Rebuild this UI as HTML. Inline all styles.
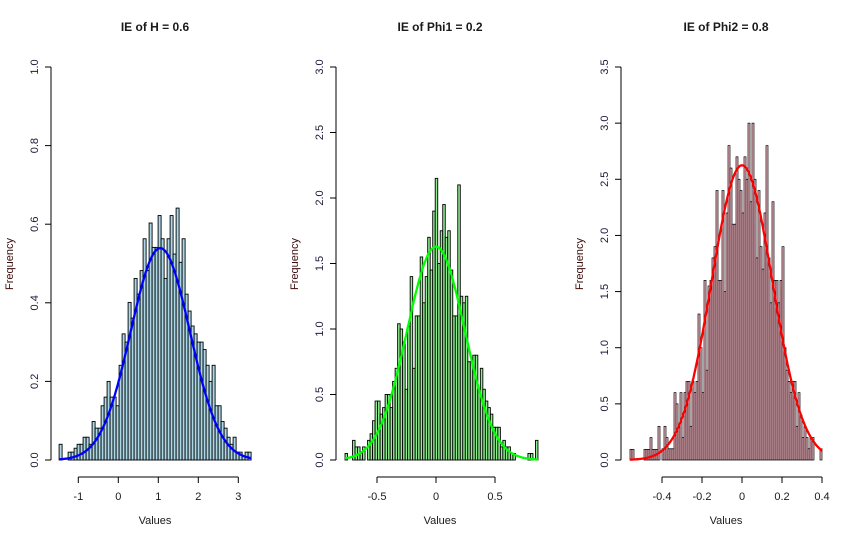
<!DOCTYPE html>
<html><head><meta charset="utf-8">
<style>
body{margin:0;background:#fff;}
svg{display:block;font-family:"Liberation Sans",Arial,sans-serif;}
</style></head>
<body>
<svg id="chart" width="857" height="541"></svg>
<script>
// Panel 1 data (IE of H)
const h1Values=[0.040,0,0,0.020,0.020,0.030,0.040,0.040,0.058,0.058,0.040,0.098,0.081,0.081,0.138,0.160,0.200,0.160,0.160,0.138,0.241,0.321,0.300,0.401,0.361,0.462,0.422,0.482,0.563,0.482,0.603,0.541,0.541,0.622,0.563,0.462,0.563,0.622,0.524,0.641,0.503,0.563,0.422,0.379,0.341,0.321,0.300,0.300,0.281,0.241,0.200,0.241,0.138,0.138,0.098,0.081,0.058,0.040,0.058,0.020,0.020,0.010,0.020,0.020];
const h1Range=[-1.48,3.32];
const h1Fit=[1.05,0.74];
const h1XTicks=[-1,0,1,2,3];
const h1YTicks=[0,0.2,0.4,0.6,0.8,1.0];
// Panel 2 data (IE of Phi1)
const h2Values=[0.05,0,0,0.15,0.1,0.1,0.05,0.1,0,0.15,0.2,0.3,0.45,0.45,0.35,0.4,0.5,0.5,0.4,0.6,0.7,1.04,1.0,0.9,0.54,1.02,1.40,0.70,1.10,1.10,1.55,1.20,1.40,1.70,1.45,1.90,2.15,1.50,1.75,1.95,1.70,1.75,1.45,1.10,1.10,2.10,1.25,1.20,1.25,0.75,0.75,0.80,0.80,0.54,0.70,0.54,0.45,0.40,0.35,0.25,0.25,0.25,0.10,0.15,0.10,0.10,0.05,0.05,0,0,0,0,0,0.05,0.05,0,0.15];
const h2Range=[-0.771,0.864];
const h2Fit=[0.0,0.245];
const h2XTicks=[-0.5,0,0.5];
const h2YTicks=[0,0.5,1.0,1.5,2.0,2.5,3.0];
// Panel 3 data (IE of Phi2)
const h3Values=[0.095,0.095,0,0,0,0,0,0.095,0.095,0.095,0.2,0.095,0.095,0.095,0.3,0,0.1,0.3,0.2,0.1,0.1,0.1,0.6,0.5,0.3,0.6,0.2,0.6,0.7,0.7,0.3,0.7,0.6,0.7,1.3,1.0,0.6,1.6,0.8,1.55,1.6,1.8,1.9,2.4,1.6,1.6,2.4,1.5,2.2,2.8,2.6,2.1,2.1,2.7,2.5,2.4,2.2,2.7,2.5,3.0,2.3,3.0,2.5,1.8,2.4,1.9,1.7,2.2,2.8,1.8,1.4,2.3,1.6,1.6,1.4,1.6,1.9,1.0,0.8,0.7,0.6,0.7,0.7,0.3,0.6,0.4,0.2,0.3,0.2,0.1,0.2,0.2,0,0,0,0.1];
const h3Range=[-0.56,0.40];
const h3Fit=[0.0,0.152];
const h3XTicks=[-0.4,-0.2,0,0.2,0.4];
const h3YTicks=[0,0.5,1.0,1.5,2.0,2.5,3.0,3.5];

const NS="http://www.w3.org/2000/svg";
const svg=document.getElementById('chart');
function mk(tag,attrs,parent){const e=document.createElementNS(NS,tag);for(const k in attrs)e.setAttribute(k,attrs[k]);(parent||svg).appendChild(e);return e;}
function fmt(v,dec){return v.toFixed(dec);}

function panel(cfg){
  const g=mk('g',{});
  
  
  const y0=460, yTopPx=67;
  const ymax=cfg.yTicks[cfg.yTicks.length-1];
  const ys=v=>y0-(v/ymax)*(y0-yTopPx);
  const xs=v=>cfg.px0+(v-cfg.v0)*cfg.ppu;
  const n=cfg.values.length, bw=(cfg.range[1]-cfg.range[0])/n;
  cfg.values.forEach((v,i)=>{
    const xa=xs(cfg.range[0]+i*bw), xb=xs(cfg.range[0]+(i+1)*bw);
    const r=mk('rect',{x:xa,y:ys(v),width:xb-xa,height:y0-ys(v),fill:cfg.fill,stroke:'#000','stroke-width':cfg.sw},g);
    
    
  });
  let d='';
  const [mu,sd]=cfg.fit;
  for(let k=0;k<=200;k++){
    const x=cfg.range[0]+(cfg.range[1]-cfg.range[0])*k/200;
    const y=Math.exp(-0.5*((x-mu)/sd)**2)/(sd*Math.sqrt(2*Math.PI));
    d+=(k?'L':'M')+xs(x).toFixed(1)+','+ys(y).toFixed(1);
  }
  const c=mk('path',{d:d,fill:'none',stroke:cfg.line,'stroke-width':2.3},g);
  
  
  const ax=cfg.yAxisX;
  const ya=mk('line',{x1:ax,x2:ax,y1:ys(0),y2:ys(ymax),stroke:'#000'},g);
  
  
  cfg.yTicks.forEach(t=>{
    mk('line',{x1:ax-6,x2:ax,y1:ys(t),y2:ys(t),stroke:'#000'},g);
    const tx=mk('text',{x:0,y:0,'font-size':11,fill:'#1a1a3a','text-anchor':'middle',transform:`translate(${ax-13},${ys(t)}) rotate(-90)`},g);
    tx.textContent=fmt(t,1);
    
    
  });
  const xa=mk('line',{x1:xs(cfg.xTicks[0]),x2:xs(cfg.xTicks[cfg.xTicks.length-1]),y1:477,y2:477,stroke:'#000'},g);
  
  
  cfg.xTicks.forEach(t=>{
    mk('line',{x1:xs(t),x2:xs(t),y1:477,y2:483,stroke:'#000'},g);
    const tx=mk('text',{x:xs(t),y:500,'font-size':11,fill:'#1a1a1a','text-anchor':'middle'},g);
    tx.textContent=(t===0?'0':(cfg.xdec?fmt(t,cfg.xdec):String(t)));
    
    
  });
  const title=mk('text',{x:cfg.cx,y:31,'font-size':12,'font-weight':'bold',fill:'#1a1a1a','text-anchor':'middle'},g);
  title.textContent=cfg.title;
  
  
  const xl=mk('text',{x:cfg.cx,y:524,'font-size':11,fill:'#1a1a1a','text-anchor':'middle'},g);
  xl.textContent='Values';
  
  
  const yl=mk('text',{x:0,y:0,'font-size':11,fill:'#3a0a0a','text-anchor':'middle',transform:`translate(${ax-38},264) rotate(-90)`},g);
  yl.textContent='Frequency';
  
  
}

panel({name:'panel-h',values:h1Values,range:h1Range,fit:h1Fit,xTicks:h1XTicks,yTicks:h1YTicks,px0:118.3,v0:0,ppu:40,yAxisX:51,fill:'#add8e6',line:'#0000ff',title:'IE of H = 0.6',cx:155,xdec:0,sw:0.9});
panel({name:'panel-phi1',values:h2Values,range:h2Range,fit:h2Fit,xTicks:h2XTicks,yTicks:h2YTicks,px0:436,v0:0,ppu:118,yAxisX:336,fill:'#90ee90',line:'#00ff00',title:'IE of Phi1 = 0.2',cx:440,xdec:1,sw:0.9});
panel({name:'panel-phi2',values:h3Values,range:h3Range,fit:h3Fit,xTicks:h3XTicks,yTicks:h3YTicks,px0:742,v0:0,ppu:200,yAxisX:621,fill:'#ffc0cb',line:'#ff0000',title:'IE of Phi2 = 0.8',cx:726,xdec:1,sw:0.7});
</script>
</body></html>
